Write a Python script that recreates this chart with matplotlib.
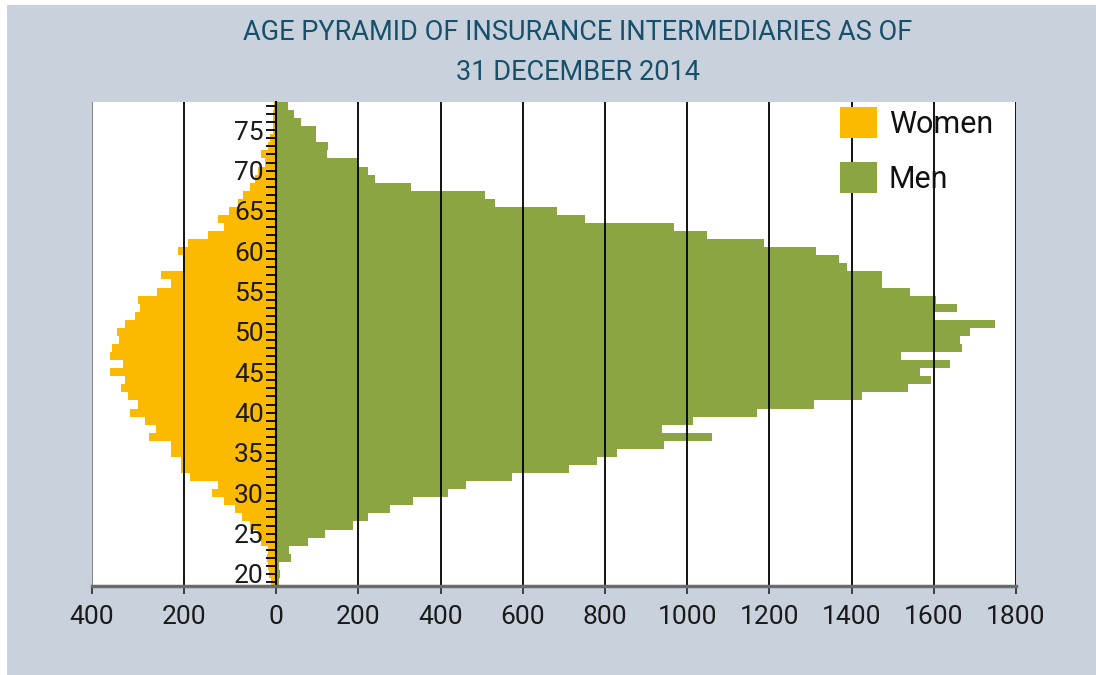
import numpy as np
import matplotlib
matplotlib.use('Agg')
import matplotlib.pyplot as plt
from matplotlib import font_manager
from matplotlib.patches import Rectangle, Patch

# ages 19..78
ages = list(range(19, 79))
men = [6, 9, 7, 36, 32, 78, 119, 187, 224, 277,
       333, 418, 462, 574, 713, 780, 829, 944, 1061, 939,
       1014, 1170, 1309, 1425, 1537, 1593, 1566, 1640, 1520, 1669,
       1664, 1688, 1749, 1601, 1657, 1605, 1542, 1474, 1474, 1389,
       1369, 1313, 1187, 1048, 968, 752, 683, 533, 508, 328,
       241, 224, 200, 124, 126, 97, 97, 61, 44, 28]
women = [12, 16, 19, 21, 19, 34, 40, 58, 75, 89,
         113, 139, 126, 187, 206, 206, 228, 228, 277, 261,
         285, 318, 300, 322, 338, 329, 360, 333, 362, 357,
         342, 346, 329, 307, 296, 300, 259, 228, 250, 202,
         202, 213, 191, 148, 113, 126, 102, 84, 73, 58,
         47, 40, 25, 34, 18, 14, 8, 7, 8, 6]
xticks = [-400, -200, 0, 200, 400, 600, 800, 1000, 1200, 1400, 1600, 1800]
yticks = [20, 25, 30, 35, 40, 45, 50, 55, 60, 65, 70, 75]

installed = {f.name for f in font_manager.fontManager.ttflist}
font = 'Liberation Sans Narrow' if 'Liberation Sans Narrow' in installed else 'Roboto'
plt.rcParams['font.family'] = [font, 'DejaVu Sans']

BG = '#c9d1dc'
YELLOW = '#fbb900'
GREEN = '#8aa541'
LEFT_K = 1.121  # the women side is drawn a bit wider than the men side


def fwd(x):
    x = np.asarray(x, dtype=float)
    return np.where(x < 0, x * LEFT_K, x)


def inv(x):
    x = np.asarray(x, dtype=float)
    return np.where(x < 0, x / LEFT_K, x)


fig = plt.figure(figsize=(10.96, 6.75), dpi=100)
fig.patch.set_facecolor('white')
fig.patches.append(Rectangle((7 / 1096, 0), 1, 1 - 5 / 675, transform=fig.transFigure,
                             facecolor=BG, edgecolor='none', zorder=-10))

ax = fig.add_axes([92 / 1096, 89 / 675, 924 / 1096, 484 / 675])
ax.set_xscale('function', functions=(fwd, inv))
ax.barh(ages, [-w for w in women], height=1.0, color=YELLOW, linewidth=0)
ax.barh(ages, men, height=1.0, color=GREEN, linewidth=0)

ax.set_xlim(-400, 1800)
ax.set_ylim(18.5, 78.5)
ax.set_xticks(xticks)
ax.set_xticklabels([str(abs(t)) for t in xticks])
ax.xaxis.grid(True, color='black', linewidth=1.3)
ax.get_xgridlines()[0].set_color('#777777')
ax.set_yticks(yticks)
ax.set_yticks(ages, minor=True)

ax.spines['top'].set_visible(False)
ax.spines['right'].set_visible(False)
ax.spines['left'].set_position(('data', 0))
ax.spines['left'].set_linewidth(1.5)
ax.spines['bottom'].set_color('#6b6b6b')
ax.spines['bottom'].set_linewidth(2.5)

ax.tick_params(axis='x', direction='out', length=6, width=1.3, color='#333333',
               labelsize=19, pad=8, labelcolor='#1a1a1a')
ax.tick_params(axis='y', which='both', direction='out', length=7, width=1.3,
               color='black', labelsize=19, pad=2, labelcolor='#1a1a1a')

handles = [Patch(facecolor=YELLOW, edgecolor='none', label='Women'),
           Patch(facecolor=GREEN, edgecolor='none', label='Men')]
leg = ax.legend(handles=handles, loc='upper left', bbox_to_anchor=(0.8095, 0.99),
                frameon=False, fontsize=22, handlelength=1.2, handleheight=1.2,
                handletextpad=0.4, labelspacing=0.75, borderpad=0, borderaxespad=0)
for t in leg.get_texts():
    t.set_color('#111111')

fig.text(0.527, 1 - 33 / 675, 'AGE PYRAMID OF INSURANCE INTERMEDIARIES AS OF',
         ha='center', va='center', fontsize=19.5, color='#16506b')
fig.text(0.527, 1 - 73 / 675, '31 DECEMBER 2014',
         ha='center', va='center', fontsize=19.5, color='#16506b')

fig.savefig('out.png', dpi=100, facecolor=fig.get_facecolor())
